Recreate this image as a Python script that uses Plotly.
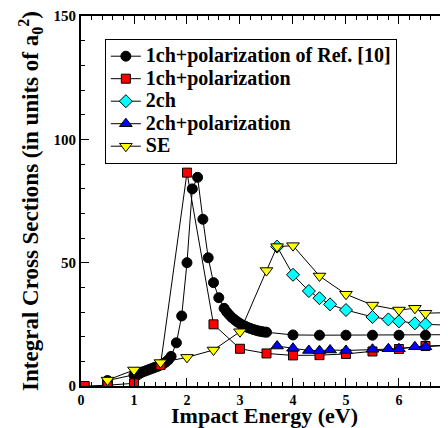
import plotly.graph_objects as go

# 1ch+polarization of Ref. [10]
ref10_x = [0.5, 1.0, 1.05, 1.1, 1.15, 1.2, 1.25, 1.3, 1.35, 1.4, 1.45, 1.5, 1.55, 1.6, 1.65,
           1.7, 1.8, 1.9, 2.0, 2.1, 2.2, 2.3, 2.4, 2.5, 2.6, 2.7,
           2.75, 2.8, 2.85, 2.9, 2.95, 3.0, 3.05, 3.1, 3.15, 3.2, 3.25, 3.3, 3.35, 3.4, 3.45, 3.5,
           4.0, 4.5, 5.0, 5.5, 6.0, 6.5, 7.0]
ref10_y = [2.2, 4.4, 4.8, 5.2, 5.6, 6.0, 6.4, 6.8, 7.2, 7.6, 8.0, 8.5, 9.0, 9.7, 10.6,
           12.0, 17.5, 28.4, 50.0, 79.9, 84.6, 67.6, 52.0, 41.9, 35.8, 31.5,
           30.0, 28.8, 27.7, 26.8, 26.0, 25.3, 24.7, 24.2, 23.7, 23.3, 22.9, 22.6, 22.3, 22.1, 21.9, 21.8,
           20.7, 20.6, 20.6, 20.6, 20.6, 20.6, 20.8]

# 1ch+polarization
pol1_x = [0.07, 0.5, 1.0, 1.5, 2.0, 2.5, 3.0, 3.5, 4.0, 4.5, 5.0, 5.5, 6.0, 6.5, 7.0]
pol1_y = [0.0, 0.3, 1.1, 8.5, 86.5, 25.0, 15.1, 13.2, 12.4, 12.5, 13.0, 14.0, 15.0, 16.2, 16.6]

# 2ch
ch2_x = [3.7, 4.0, 4.3, 4.5, 4.7, 5.0, 5.5, 5.8, 6.0, 6.3, 6.5, 7.0]
ch2_y = [56.5, 45.1, 38.5, 35.6, 33.1, 30.8, 28.0, 27.0, 26.2, 25.4, 25.0, 24.6]

# 2ch+polarization
pol2_x = [3.7, 4.0, 4.3, 4.5, 4.7, 5.0, 5.5, 5.8, 6.0, 6.3, 6.5, 7.0]
pol2_y = [16.2, 15.3, 14.4, 14.3, 14.6, 14.4, 14.9, 15.1, 15.1, 15.9, 15.9, 16.6]

# SE
se_x = [0.5, 1.0, 1.5, 2.0, 2.5, 3.0, 3.5, 3.7, 4.0, 4.5, 5.0, 5.5, 6.0, 6.3, 6.5, 7.0]
se_y = [2.4, 6.5, 9.5, 11.6, 14.6, 22.0, 46.8, 56.5, 56.9, 44.6, 37.2, 32.8, 30.8, 31.5, 29.5, 29.8]

x_ticks = [0, 1, 2, 3, 4, 5, 6, 7]
y_ticks = [0, 50, 100, 150]

series_names = ["1ch+polarization of Ref. [10]", "1ch+polarization", "2ch",
                "2ch+polarization", "SE"]

FONT = "Liberation Serif"


def legend_label(s):
    return '<span style="font-size:20px"><b>%s</b></span>' % s


fig = go.Figure()
line = dict(color="black", width=1)
fig.add_trace(go.Scatter(x=ref10_x, y=ref10_y, mode="lines+markers",
                         name=legend_label(series_names[0]), line=line,
                         marker=dict(symbol="circle", size=10, color="black",
                                     line=dict(color="black", width=1))))
fig.add_trace(go.Scatter(x=pol1_x, y=pol1_y, mode="lines+markers",
                         name=legend_label(series_names[1]), line=line,
                         marker=dict(symbol="square", size=9, color="#ff0000",
                                     line=dict(color="black", width=1))))
fig.add_trace(go.Scatter(x=ch2_x, y=ch2_y, mode="lines+markers",
                         name=legend_label(series_names[2]), line=line,
                         marker=dict(symbol="diamond", size=10, color="#00ffff",
                                     line=dict(color="black", width=1))))
fig.add_trace(go.Scatter(x=pol2_x, y=pol2_y, mode="lines+markers",
                         name=legend_label(series_names[3]), line=line,
                         marker=dict(symbol="triangle-up", size=11, color="#0000ff",
                                     line=dict(color="black", width=1))))
fig.add_trace(go.Scatter(x=se_x, y=se_y, mode="lines+markers",
                         name=legend_label(series_names[4]), line=line,
                         marker=dict(symbol="triangle-down", size=11, color="#ffff00",
                                     line=dict(color="black", width=1))))
# invisible trace to carry the right-hand tick axis
fig.add_trace(go.Scatter(x=[None], y=[None], yaxis="y2", showlegend=False, hoverinfo="skip"))

# The page body has an 8px default margin, so the figure is sized/margined
# to place the plot area where the reference has it in the 448x428 window.
fig.update_layout(
    width=440, height=420,
    margin=dict(l=73, r=0, t=8, b=42),
    plot_bgcolor="white", paper_bgcolor="white",
    font=dict(family=FONT, color="black"),
    showlegend=True,
    legend=dict(x=0.065, y=0.938, xanchor="left", yanchor="top",
                bgcolor="white", bordercolor="black", borderwidth=1,
                font=dict(family=FONT, size=15, color="black"),
                tracegroupgap=0, itemwidth=30),
    xaxis=dict(range=[0, 6.925], tickmode="array", tickvals=x_ticks,
               ticktext=["<b>%d</b>" % v for v in x_ticks],
               ticks="inside", ticklen=8, tickwidth=1, tickcolor="black",
               minor=dict(dtick=0.2, ticks="inside", ticklen=4, tickcolor="black"),
               showline=True, linecolor="black", linewidth=2, mirror="ticks",
               showgrid=False, zeroline=False,
               tickfont=dict(family=FONT, size=14, color="black"),
               title=dict(text="<b>Impact Energy (eV)</b>", font=dict(family=FONT, size=22, color="black"),
                          standoff=6)),
    yaxis=dict(range=[0, 150], tickmode="array", tickvals=y_ticks,
               ticktext=["<b>%d</b>" % v for v in y_ticks],
               ticks="inside", ticklen=8, tickwidth=1, tickcolor="black",
               minor=dict(dtick=10, ticks="inside", ticklen=4, tickcolor="black"),
               showline=True, linecolor="black", linewidth=2, mirror=False,
               showgrid=False, zeroline=False,
               tickfont=dict(family=FONT, size=15, color="black"),
               title=dict(text="<b>Integral Cross Sections (in units of a<sub>0</sub><sup>2</sup>)</b>",
                          font=dict(family=FONT, size=23, color="black"), standoff=8)),
    yaxis2=dict(range=[0, 150], overlaying="y", side="right", tickvals=y_ticks,
                showticklabels=False, ticks="inside", ticklen=8, tickwidth=1, tickcolor="black",
                minor=dict(dtick=10, ticks="inside", ticklen=4, tickcolor="black"),
                showline=False, showgrid=False, zeroline=False),
)

fig.write_html("out.html")
